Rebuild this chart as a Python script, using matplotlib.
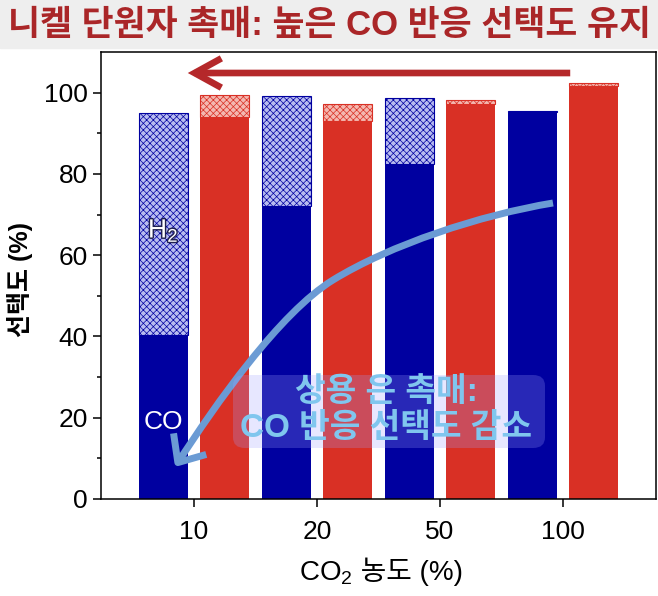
import numpy as np
import matplotlib.pyplot as plt
import matplotlib.patheffects as pe
from matplotlib.patches import FancyArrowPatch, FancyBboxPatch, Rectangle
from matplotlib.path import Path

plt.rcParams['font.family'] = ['Liberation Sans', 'Noto Sans CJK KR']
plt.rcParams['mathtext.fontset'] = 'custom'
plt.rcParams['mathtext.rm'] = 'Liberation Sans'
plt.rcParams['hatch.linewidth'] = 0.5

# --- data ---
co2_levels = ['10', '20', '50', '100']
ag_co = [40.4, 72.2, 82.4, 95.2]     # commercial Ag catalyst, CO part (blue)
ag_h2 = [54.7, 26.9, 16.4, 0.4]      # commercial Ag catalyst, H2 part
ni_co = [93.9, 92.9, 97.2, 101.7]    # Ni single atom, CO part (red)
ni_h2 = [5.6, 4.3, 0.9, 0.7]         # Ni single atom, H2 part

BLUE = '#0000a0'
BLUE_LT = '#b8bcf0'
RED = '#d93025'
RED_LT = '#f4b8b0'

W, H = 658, 596


def px(x, y):
    # image pixel (top-left origin) -> figure fraction
    return x / W, 1 - y / H


fig = plt.figure(figsize=(W / 100, H / 100), dpi=100)
fig.patches.append(Rectangle((0, 1 - 48 / H), 1, 48 / H, transform=fig.transFigure,
                             color='#eeeeee', zorder=0))
fig.text(*px(329, 25), '니켈 단원자 촉매: 높은 CO 반응 선택도 유지', ha='center', va='center',
         fontsize=25, fontweight='bold', color='#aa2628')

ax = fig.add_axes([101 / W, 1 - 499 / H, 555 / W, 447 / H])
x = np.arange(len(co2_levels))
w = 0.4

ax.bar(x - 0.25, ag_co, w, color=BLUE, linewidth=0)
ax.bar(x - 0.25, ag_h2, w, bottom=ag_co, facecolor=BLUE_LT, edgecolor=BLUE,
       hatch='xxxxx', linewidth=0.8)
ax.bar(x + 0.25, ni_co, w, color=RED, linewidth=0)
ax.bar(x + 0.25, ni_h2, w, bottom=ni_co, facecolor=RED_LT, edgecolor=RED,
       hatch='xxxxx', linewidth=0.8)

ax.set_xlim(-0.756, 3.756)
ax.set_ylim(0, 110)
ax.set_xticks(x)
ax.set_xticklabels(co2_levels)
ax.set_yticks(np.arange(0, 101, 20))
ax.set_yticks(np.arange(10, 100, 20), minor=True)
ax.tick_params(axis='both', which='major', labelsize=19, length=6, width=1.1, direction='out')
ax.tick_params(axis='x', pad=9)
ax.tick_params(axis='y', which='minor', length=3, width=1.1)
for s in ax.spines.values():
    s.set_linewidth(1.1)

# x label in two pieces (mathtext subscript + Korean text)
fig.text(*px(353, 580), 'CO$_{\\mathrm{2}}$', ha='right', va='baseline', fontsize=20)
fig.text(*px(353, 580), ' 농도 (%)', ha='left', va='baseline', fontsize=20)

ax.set_ylabel('선택도 (%)', fontsize=18, fontweight='bold')
ax.yaxis.set_label_coords(-0.122, 0.49)

# labels inside the first blue bar
ax.text(0 - 0.25, 19, 'CO', color='white', fontsize=19, ha='center', va='center')
ax.text(0 - 0.25, 66, 'H$_{\\mathrm{2}}$', color='white', fontsize=19, ha='center', va='center',
        path_effects=[pe.withStroke(linewidth=2, foreground='#202050')])

# red arrow: Ni keeps high CO selectivity
red_arrow = FancyArrowPatch(px(573, 73), px(185, 73), transform=fig.transFigure,
                            arrowstyle='->,head_length=0.4,head_width=0.22',
                            mutation_scale=48, color='#b5282a', lw=4.8,
                            capstyle='butt', joinstyle='miter', zorder=5)
fig.patches.append(red_arrow)

# curved blue arrow: Ag loses CO selectivity
verts = [px(553, 203), px(480, 215), px(390, 245), px(333, 280),
         px(280, 312.5), px(215, 405), px(175, 467)]
codes = [Path.MOVETO] + [Path.CURVE4] * 6
blue_arrow = FancyArrowPatch(path=Path(verts, codes), transform=fig.transFigure,
                             arrowstyle='->,head_length=0.4,head_width=0.35',
                             mutation_scale=40, color='#6b9bd4', lw=5,
                             capstyle='butt', zorder=5)
fig.patches.append(blue_arrow)

# annotation box
x0, y0 = px(233, 448)
x1, y1 = px(545, 375)
box = FancyBboxPatch((x0, y0), x1 - x0, y1 - y0, transform=fig.transFigure,
                     boxstyle='round,pad=0,rounding_size=0.018',
                     facecolor='#a0a0ff', edgecolor='none', alpha=0.25, zorder=6)
fig.patches.append(box)
fig.text(*px(386, 393), '상용 은 촉매:', ha='center', va='center', fontsize=24,
         fontweight='bold', color='#80c6ee', zorder=7)
fig.text(*px(386, 429), 'CO 반응 선택도 감소', ha='center', va='center', fontsize=24,
         fontweight='bold', color='#80c6ee', zorder=7)

fig.savefig('out.png', dpi=100)
